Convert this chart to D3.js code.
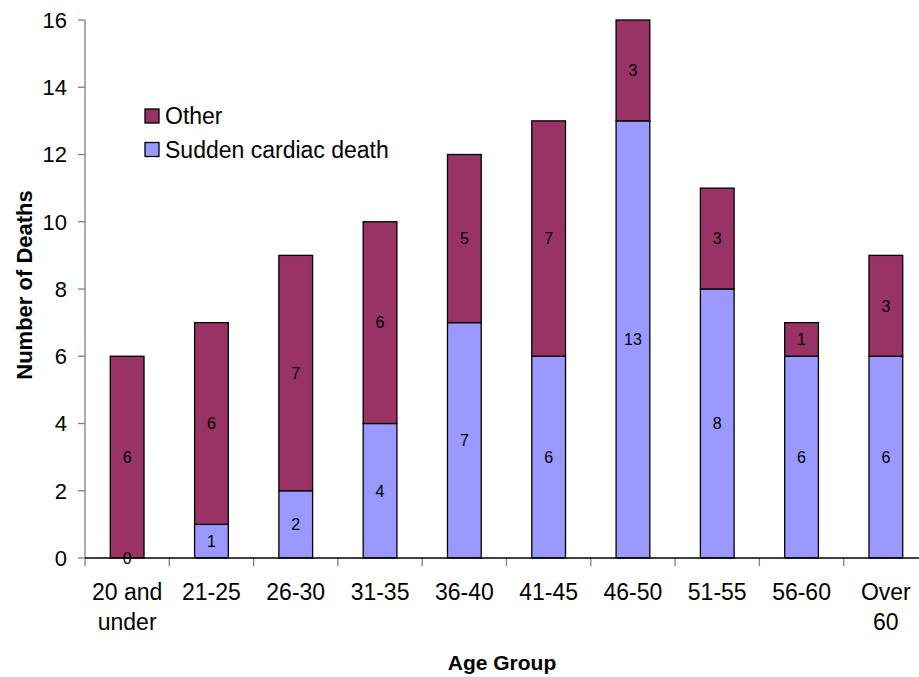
<!DOCTYPE html>
<html>
<head>
<meta charset="utf-8">
<script src="https://cdn.jsdelivr.net/npm/d3@7"></script>
<style>
  html, body { margin: 0; padding: 0; background: #fff; }
  svg { display: block; font-family: "Liberation Sans", Arial, sans-serif; }
</style>
</head>
<body>
<svg id="chart" width="919" height="677"></svg>
<script>
// Deaths by age group, split by cause
const ageGroups = ["20 and\nunder", "21-25", "26-30", "31-35", "36-40", "41-45", "46-50", "51-55", "56-60", "Over\n60"];
const suddenCardiac = [0, 1, 2, 4, 7, 6, 13, 8, 6, 6];
const otherCauses = [6, 6, 7, 6, 5, 7, 3, 3, 1, 3];
const yTicks = [0, 2, 4, 6, 8, 10, 12, 14, 16];
const seriesNames = ["Sudden cardiac death", "Other"];
const seriesColors = { "Sudden cardiac death": "#9999FF", "Other": "#993366" };

const svg = d3.select("#chart");

const x = d3.scaleBand().domain(ageGroups).range([85, 928]).paddingInner(0).paddingOuter(0);
const y = d3.scaleLinear().domain([0, 16]).range([558, 20]);

const rows = ageGroups.map((g, i) => ({ group: g, "Sudden cardiac death": suddenCardiac[i], "Other": otherCauses[i] }));
const stacked = d3.stack().keys(seriesNames)(rows);

const barW = x.bandwidth() * 0.4;

// stacked bars
stacked.forEach(layer => {
  svg.append("g")
    .selectAll("rect")
    .data(layer)
    .join("rect")
    .attr("x", d => x(d.data.group) + (x.bandwidth() - barW) / 2)
    .attr("y", d => y(d[1]))
    .attr("width", barW)
    .attr("height", d => y(d[0]) - y(d[1]))
    .attr("fill", seriesColors[layer.key])
    .attr("stroke", "#000")
    .attr("stroke-width", 1.3);
});

// segment value labels
stacked.forEach(layer => {
  svg.append("g")
    .selectAll("text")
    .data(layer)
    .join("text")
    .attr("x", d => x(d.data.group) + x.bandwidth() / 2)
    .attr("y", d => y((d[0] + d[1]) / 2))
    .attr("dy", "0.36em")
    .attr("text-anchor", "middle")
    .attr("font-size", 16)
    .attr("fill", "#000")
    .text(d => d[1] - d[0]);
});

// y axis
const yAxis = svg.append("g");
yAxis.append("line")
  .attr("x1", 85).attr("x2", 85)
  .attr("y1", y(16)).attr("y2", y(0))
  .attr("stroke", "#808080").attr("stroke-width", 1.3);
yAxis.selectAll("line.tick")
  .data(yTicks)
  .join("line")
  .attr("class", "tick")
  .attr("x1", 78).attr("x2", 85)
  .attr("y1", d => y(d)).attr("y2", d => y(d))
  .attr("stroke", "#808080").attr("stroke-width", 1.3);
yAxis.selectAll("text")
  .data(yTicks)
  .join("text")
  .attr("x", 67)
  .attr("y", d => y(d))
  .attr("dy", "0.36em")
  .attr("text-anchor", "end")
  .attr("font-size", 22)
  .text(d => d);

// x axis
const xAxis = svg.append("g");
const boundaries = ageGroups.map(g => x(g)).concat([x.range()[1]]);
xAxis.selectAll("line.tick")
  .data(boundaries)
  .join("line")
  .attr("class", "tick")
  .attr("x1", d => d).attr("x2", d => d)
  .attr("y1", y(0)).attr("y2", y(0) + 8)
  .attr("stroke", "#808080").attr("stroke-width", 1.3);
xAxis.append("line")
  .attr("x1", 85).attr("x2", x.range()[1])
  .attr("y1", y(0)).attr("y2", y(0))
  .attr("stroke", "#000").attr("stroke-width", 1.3);
xAxis.selectAll("text")
  .data(ageGroups)
  .join("text")
  .attr("text-anchor", "middle")
  .attr("font-size", 23)
  .each(function(g) {
    const lines = g.split("\n");
    d3.select(this).selectAll("tspan")
      .data(lines)
      .join("tspan")
      .attr("x", x(g) + x.bandwidth() / 2)
      .attr("y", (d, i) => 592 + i * 30)
      .attr("dy", "0.36em")
      .text(d => d);
  });

// axis titles
svg.append("text")
  .attr("x", 502)
  .attr("y", 662)
  .attr("dy", "0.36em")
  .attr("text-anchor", "middle")
  .attr("font-size", 21)
  .attr("font-weight", "bold")
  .text("Age Group");
svg.append("text")
  .attr("transform", "translate(24,285) rotate(-90)")
  .attr("dy", "0.36em")
  .attr("text-anchor", "middle")
  .attr("font-size", 22)
  .attr("font-weight", "bold")
  .text("Number of Deaths");

// legend
const legendItems = ["Other", "Sudden cardiac death"];
const legend = svg.append("g").selectAll("g")
  .data(legendItems)
  .join("g")
  .attr("transform", (d, i) => `translate(145,${109 + i * 33.5})`);
legend.append("rect")
  .attr("width", 14).attr("height", 14)
  .attr("fill", d => seriesColors[d])
  .attr("stroke", "#000").attr("stroke-width", 1.3);
legend.append("text")
  .attr("x", 20).attr("y", 7)
  .attr("dy", "0.36em")
  .attr("font-size", 23)
  .text(d => d);
</script>
</body>
</html>
